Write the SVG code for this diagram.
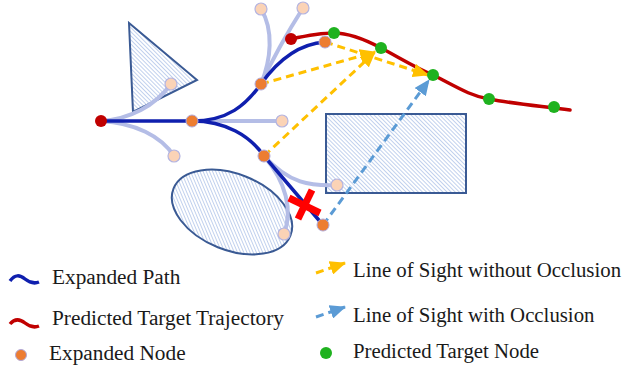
<svg xmlns="http://www.w3.org/2000/svg" width="623" height="368" viewBox="0 0 623 368">
<style>
.obs{fill:url(#hatch);stroke:#3a5a94;stroke-width:2}
.br{fill:none;stroke:#b4bde6;stroke-width:4;stroke-linecap:round}
.bp{fill:none;stroke:#0f1fae;stroke-width:3.5;stroke-linecap:round}
.tr{fill:none;stroke:#c00000;stroke-width:3.5;stroke-linecap:round}
.los{fill:none;stroke:#ffc000;stroke-width:3;stroke-dasharray:8 5}
.occ{fill:none;stroke:#5b9bd5;stroke-width:3;stroke-dasharray:8 5}
.en{fill:#ed7d31;stroke:#b0a8d8;stroke-width:1}
.ln{fill:#fbd3b6;stroke:#b4b4e0;stroke-width:1.2}
.rn{fill:#c00000}
.gn{fill:#1fb21f}
.lbl{font-family:"Liberation Serif","Times New Roman",serif;font-size:21.3px;fill:#1a1a1a}
.lbr{font-family:"Liberation Serif","Times New Roman",serif;font-size:20.8px;fill:#1a1a1a}
</style>
<defs>
<pattern id="hatch" width="2.9" height="2.9" patternUnits="userSpaceOnUse" patternTransform="rotate(-45)">
<rect width="2.9" height="2.9" fill="#ffffff"/>
<line x1="0" y1="0" x2="0" y2="2.9" stroke="#aec2e8" stroke-width="1.5"/>
</pattern>
<marker id="ay" markerUnits="userSpaceOnUse" markerWidth="16" markerHeight="14" refX="15" refY="7" orient="auto"><path d="M0,0 L16,7 L0,14 z" fill="#ffc000"/></marker>
<marker id="ab" markerUnits="userSpaceOnUse" markerWidth="16" markerHeight="14" refX="15" refY="7" orient="auto"><path d="M0,0 L16,7 L0,14 z" fill="#5b9bd5"/></marker>
</defs>
<rect width="623" height="368" fill="#ffffff"/>

<g id="obstacles">
<polygon id="triangle" class="obs" points="129,23 197,80 133,112"/>
<rect id="rectangle" class="obs" x="326" y="114" width="140" height="79"/>
<ellipse id="ellipse" class="obs" cx="232" cy="212" rx="63" ry="38" transform="rotate(22 232 212)"/>
</g>

<g id="connectors">
<path class="br" d="M101,121 C130,119 155,106 171,84"/>
<path class="br" d="M101,121 C135,123 161,136 174,156"/>
<path class="br" d="M200,121 L282,121"/>
<path class="br" d="M261,84 C271,60 274,30 261,9"/>
<path class="br" d="M261,84 C274,56 289,30 303,8"/>
<path class="br" d="M264,156 C290,184 310,186 337,185"/>
<path class="br" d="M264,156 C286,182 293,210 284,234"/>
<path class="bp" d="M101,121 L192,121 C228,121 246,105 261,84 C278,60 298,44 325,42"/>
<path class="bp" d="M192,121 C226,121 250,136 264,156 L323,225"/>
<path class="tr" d="M291,39 C305,36 320,33 334,33 C350,33 366,40 381,48 C400,58 416,68 433,75 C455,86 470,96 489,99 C515,104 540,106 570,110"/>
<line class="los" x1="261" y1="84" x2="375" y2="52" marker-end="url(#ay)"/>
<line class="los" x1="264" y1="156" x2="375" y2="52" marker-end="url(#ay)"/>
<line class="los" x1="325" y1="42" x2="428" y2="75" marker-end="url(#ay)"/>
<line class="occ" x1="323" y1="225" x2="429" y2="80" marker-end="url(#ab)"/>
<g id="blocked">
<line x1="289" y1="198" x2="320" y2="213" stroke="#ff0000" stroke-width="7"/>
<line x1="312" y1="190" x2="298" y2="219" stroke="#ff0000" stroke-width="7"/>
</g>
</g>

<g id="nodes">
<circle id="l1" class="ln" cx="171" cy="84" r="6"/>
<circle id="l2" class="ln" cx="174" cy="156" r="6"/>
<circle id="l3" class="ln" cx="282" cy="121" r="6"/>
<circle id="l4" class="ln" cx="261" cy="9" r="6"/>
<circle id="l5" class="ln" cx="303" cy="8" r="6"/>
<circle id="l6" class="ln" cx="337" cy="185" r="6"/>
<circle id="l7" class="ln" cx="284" cy="234" r="6"/>
<circle id="root" class="rn" cx="101" cy="121" r="6"/>
<circle id="e1" class="en" cx="192" cy="121" r="6"/>
<circle id="e2" class="en" cx="261" cy="84" r="6"/>
<circle id="e3" class="en" cx="264" cy="156" r="6"/>
<circle id="e4" class="en" cx="325" cy="42" r="6"/>
<circle id="e5" class="en" cx="323" cy="225" r="6"/>
<circle id="tstart" class="rn" cx="291" cy="39" r="6"/>
<circle id="g1" class="gn" cx="334" cy="33" r="6"/>
<circle id="g2" class="gn" cx="381" cy="48" r="6"/>
<circle id="g3" class="gn" cx="433" cy="75" r="6"/>
<circle id="g4" class="gn" cx="489" cy="99" r="6"/>
<circle id="g5" class="gn" cx="554" cy="107" r="6"/>
</g>

<g id="legend">
<path d="M10,281 C15,274 20,275 25,279 C30,283 34,284 39,282" fill="none" stroke="#0f1fae" stroke-width="3.5"/>
<text class="lbl" x="52" y="284">Expanded Path</text>
<path d="M10,324 C15,318 20,319 25,323 C30,327 34,328 39,326" fill="none" stroke="#c00000" stroke-width="3.5"/>
<text class="lbl" x="52" y="325">Predicted Target Trajectory</text>
<circle class="en" cx="21" cy="355" r="5.5"/>
<text class="lbl" x="49" y="360">Expanded Node</text>
<line class="los" x1="316" y1="273" x2="345" y2="263" marker-end="url(#ay)"/>
<text class="lbr" x="353" y="277">Line of Sight without Occlusion</text>
<line class="occ" x1="316" y1="317" x2="345" y2="307" marker-end="url(#ab)"/>
<text class="lbr" x="353" y="322">Line of Sight with Occlusion</text>
<circle class="gn" cx="326" cy="353" r="6"/>
<text class="lbr" x="353" y="358">Predicted Target Node</text>
</g>
</svg>
